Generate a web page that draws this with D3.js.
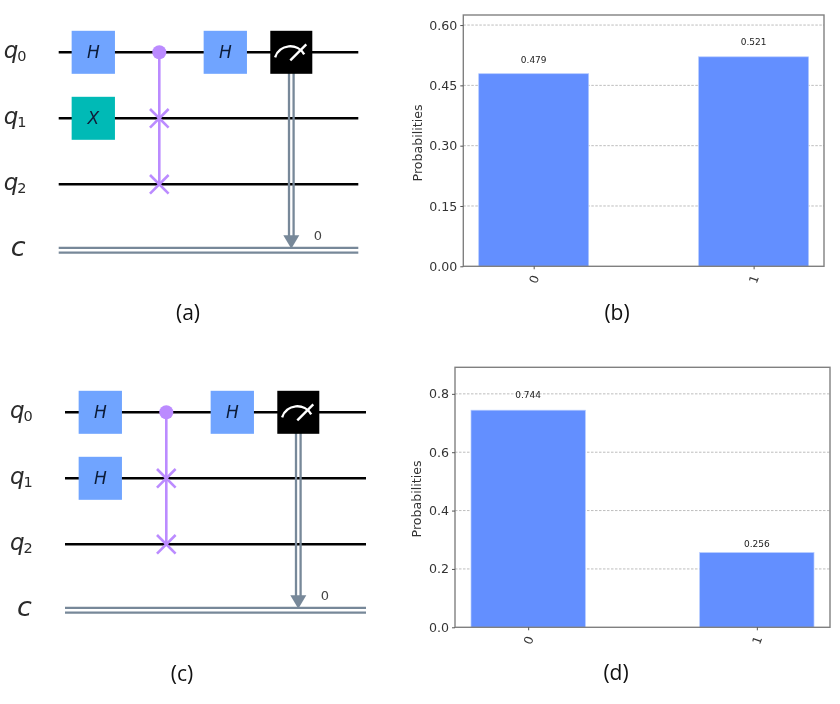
<!DOCTYPE html>
<html><head><meta charset="utf-8">
<script src="https://cdn.jsdelivr.net/npm/d3@7"></script>
<style>html,body{margin:0;padding:0;background:#fff}svg{display:block}</style>
</head><body><svg id="c" width="840" height="704"></svg>
<script>
// ---- data ----
const outcomes = ["0", "1"];
const probsB = [0.479, 0.521];
const probsD = [0.744, 0.256];
const ticksB = [0, 0.15, 0.30, 0.45, 0.60];
const ticksD = [0, 0.2, 0.4, 0.6, 0.8];
const wires = ["q0", "q1", "q2", "c"];
const gatesA = [{name:"H",wire:0,col:0},{name:"X",wire:1,col:0},{name:"H",wire:0,col:2}];
const gatesC = [{name:"H",wire:0,col:0},{name:"H",wire:1,col:0},{name:"H",wire:0,col:2}];
const fredkinColumn = 1, fredkinControl = 0, fredkinTargets = [1, 2];
const measureColumn = 3, measureWire = 0, measureBit = "0";
const captions = ["(a)", "(b)", "(c)", "(d)"];

// ---- style ----
const C = {H:"#6fa4ff", X:"#05bab6", swap:"#bb8bff", cls:"#778899", bar:"#648fff", txt:"#444"};
const svg = d3.select("#c");
const defs = svg.append("defs");
defs.append("filter").attr("id","soft").attr("x","-5%").attr("y","-5%").attr("width","110%").attr("height","110%")
  .append("feGaussianBlur").attr("stdDeviation",0.5);

function circuit(g, gates, o) {
  const col = d3.scaleLinear().domain([0,3]).range([o.x0, o.x0+198]);
  const wy = d3.scaleLinear().domain([0,3]).range([o.y0, o.y0+198]);
  const xs = [o.left, o.right];
  // quantum wires
  g.selectAll(".w").data(wires.slice(0,3)).join("line")
    .attr("x1",xs[0]).attr("x2",xs[1])
    .attr("y1",(d,i)=>wy(i)).attr("y2",(d,i)=>wy(i))
    .attr("stroke","#000").attr("stroke-width",2.4);
  // classical double wire
  [-2.4,2.4].forEach(d=>g.append("line").attr("x1",xs[0]).attr("x2",xs[1])
    .attr("y1",wy(3)+d).attr("y2",wy(3)+d).attr("stroke",C.cls).attr("stroke-width",2.3));
  // wire labels
  wires.forEach((w,i)=>{
    const t = g.append("text").attr("x",o.left-55).attr("y",wy(i)+6)
      .attr("font-family","DejaVu Sans").attr("fill","#2a2a2a");
    if(i<3){
      t.append("tspan").attr("font-size",23).attr("font-style","italic").text(w[0]);
      t.append("tspan").attr("font-size",14.5).attr("dy",3).attr("dx",-1).text(w[1]);
    } else {
      t.attr("x",o.left-48).append("tspan").attr("font-size",27).attr("font-style","italic").text(w);
    }
  });
  // gates
  const bw=43.3, bh=43;
  const gg = g.selectAll(".g").data(gates).join("g")
    .attr("transform",d=>`translate(${col(d.col)},${wy(d.wire)})`);
  gg.append("rect").attr("x",-bw/2).attr("y",-bh/2).attr("width",bw).attr("height",bh)
    .attr("fill",d=>C[d.name]);
  gg.append("text").attr("text-anchor","middle").attr("y",6).attr("font-family","DejaVu Sans")
    .attr("font-style","italic").attr("font-size",17).attr("fill","#0c1c38").text(d=>d.name);
  // controlled swap
  const fx = col(fredkinColumn);
  g.append("line").attr("x1",fx).attr("x2",fx).attr("y1",wy(fredkinControl)).attr("y2",wy(fredkinTargets[1]))
    .attr("stroke",C.swap).attr("stroke-width",2.6);
  g.append("circle").attr("cx",fx).attr("cy",wy(fredkinControl)).attr("r",7).attr("fill",C.swap);
  fredkinTargets.forEach(t=>{
    [[-1,-1],[1,-1]].forEach(([a,b])=>g.append("line")
      .attr("x1",fx+a*9.3).attr("y1",wy(t)+b*9.3).attr("x2",fx-a*9.3).attr("y2",wy(t)-b*9.3)
      .attr("stroke",C.swap).attr("stroke-width",2.6));
  });
  // measurement
  const mx = col(measureColumn), my = wy(measureWire);
  [-2.3,2.3].forEach(d=>g.append("line").attr("x1",mx+d).attr("x2",mx+d).attr("y1",my).attr("y2",wy(3)-13)
    .attr("stroke",C.cls).attr("stroke-width",2.3));
  g.append("path").attr("d",d3.line()([[mx-8,wy(3)-15],[mx+8,wy(3)-15],[mx,wy(3)-1.5]])+"Z").attr("fill",C.cls);
  g.append("text").attr("x",mx+22.5).attr("y",wy(3)-10.5).attr("font-family","DejaVu Sans")
    .attr("font-size",13).attr("fill","#444").text(measureBit);
  const m = g.append("g").attr("transform",`translate(${mx},${my})`);
  m.append("rect").attr("x",-21).attr("y",-21.5).attr("width",42).attr("height",43).attr("fill","#000");
  m.append("path").attr("transform","translate(-1,10)")
    .attr("d",d3.arc().innerRadius(16).outerRadius(16).startAngle(-1.25).endAngle(1.05)())
    .attr("fill","none").attr("stroke","#fff").attr("stroke-width",2.4);
  m.append("line").attr("x1",-1).attr("y1",8).attr("x2",15).attr("y2",-8).attr("stroke","#fff").attr("stroke-width",2.4);
}

function bars(g, vals, ticks, o) {
  const x = d3.scaleLinear().domain([-0.32,1.32]).range([o.l,o.r]);
  const y = d3.scaleLinear().domain([0,o.ymax]).range([o.b,o.t]);
  const halfW = 0.25;
  // grid
  g.selectAll(".grid").data(ticks.filter(t=>t>0)).join("line")
    .attr("x1",o.l).attr("x2",o.r).attr("y1",d=>y(d)).attr("y2",d=>y(d))
    .attr("stroke","#bdbdbd").attr("stroke-width",1).attr("stroke-dasharray","2.5,1.5");
  // bars
  g.selectAll(".bar").data(vals).join("rect")
    .attr("x",(d,i)=>x(i-halfW)).attr("width",x(halfW)-x(-halfW))
    .attr("y",d=>y(d)).attr("height",d=>y(0)-y(d))
    .attr("fill",C.bar).attr("stroke","#b4caff").attr("stroke-width",0.7);
  // value labels
  g.selectAll(".val").data(vals).join("text")
    .attr("x",(d,i)=>x(i)).attr("y",(d,i)=>y(d)+o.labelDy[i])
    .attr("text-anchor","middle").attr("font-family","DejaVu Sans").attr("font-size",9).attr("fill","#222")
    .text(d=>d3.format(".3f")(d));
  // frame
  g.append("rect").attr("x",o.l).attr("y",o.t).attr("width",o.r-o.l).attr("height",o.b-o.t)
    .attr("fill","none").attr("stroke","#808080").attr("stroke-width",1.4);
  // y axis
  const ya = g.append("g").attr("transform",`translate(${o.l},0)`)
    .call(d3.axisLeft(y).tickValues(ticks).tickFormat(d3.format(o.fmt)).tickSize(3).tickPadding(3));
  ya.select(".domain").remove();
  ya.selectAll("line").attr("stroke","#555");
  ya.selectAll("text").attr("font-family","DejaVu Sans").attr("font-size",12.6).attr("fill","#333");
  // x axis
  const xa = g.append("g").attr("transform",`translate(0,${o.b})`)
    .call(d3.axisBottom(x).tickValues([0,1]).tickFormat(i=>outcomes[i]).tickSize(3));
  xa.select(".domain").remove();
  xa.selectAll("line").attr("stroke","#555");
  xa.selectAll("text").attr("font-family","DejaVu Sans").attr("font-size",12).attr("fill","#333")
    .attr("text-anchor","middle").attr("y",0).attr("dy",0)
    .attr("transform","translate(0,13) rotate(-70)").attr("dominant-baseline","central");
  // y label
  g.append("text").attr("transform",`translate(${o.yl},${(o.ylc)}) rotate(-90)`)
    .attr("text-anchor","middle").attr("font-family","DejaVu Sans").attr("font-size",12.6).attr("fill","#333")
    .text("Probabilities");
}

const soft = svg.append("g").attr("filter","url(#soft)");
circuit(soft.append("g"), gatesA, {x0:93.3,y0:52.3,left:58.7,right:358.3});
circuit(soft.append("g"), gatesC, {x0:100.3,y0:412.3,left:65,right:366});
bars(soft.append("g"), probsB, ticksB, {l:463.3,r:824,t:15,b:266.3,ymax:0.625,fmt:".2f",labelDy:[-11,-11.5],yl:422,ylc:143});
bars(soft.append("g"), probsD, ticksD, {l:455,r:830,t:367.3,b:627.3,ymax:0.891,fmt:".1f",labelDy:[-12,-5.5],yl:421,ylc:499});

// captions
const capPos = [[188,313],[617,313],[182,674],[616,673]];
svg.selectAll(".cap").data(captions).join("text")
  .attr("x",(d,i)=>capPos[i][0]).attr("y",(d,i)=>capPos[i][1]+7)
  .attr("text-anchor","middle").attr("font-family","Open Sans").attr("font-size",21).attr("fill","#111")
  .text(d=>d);
</script></body></html>
